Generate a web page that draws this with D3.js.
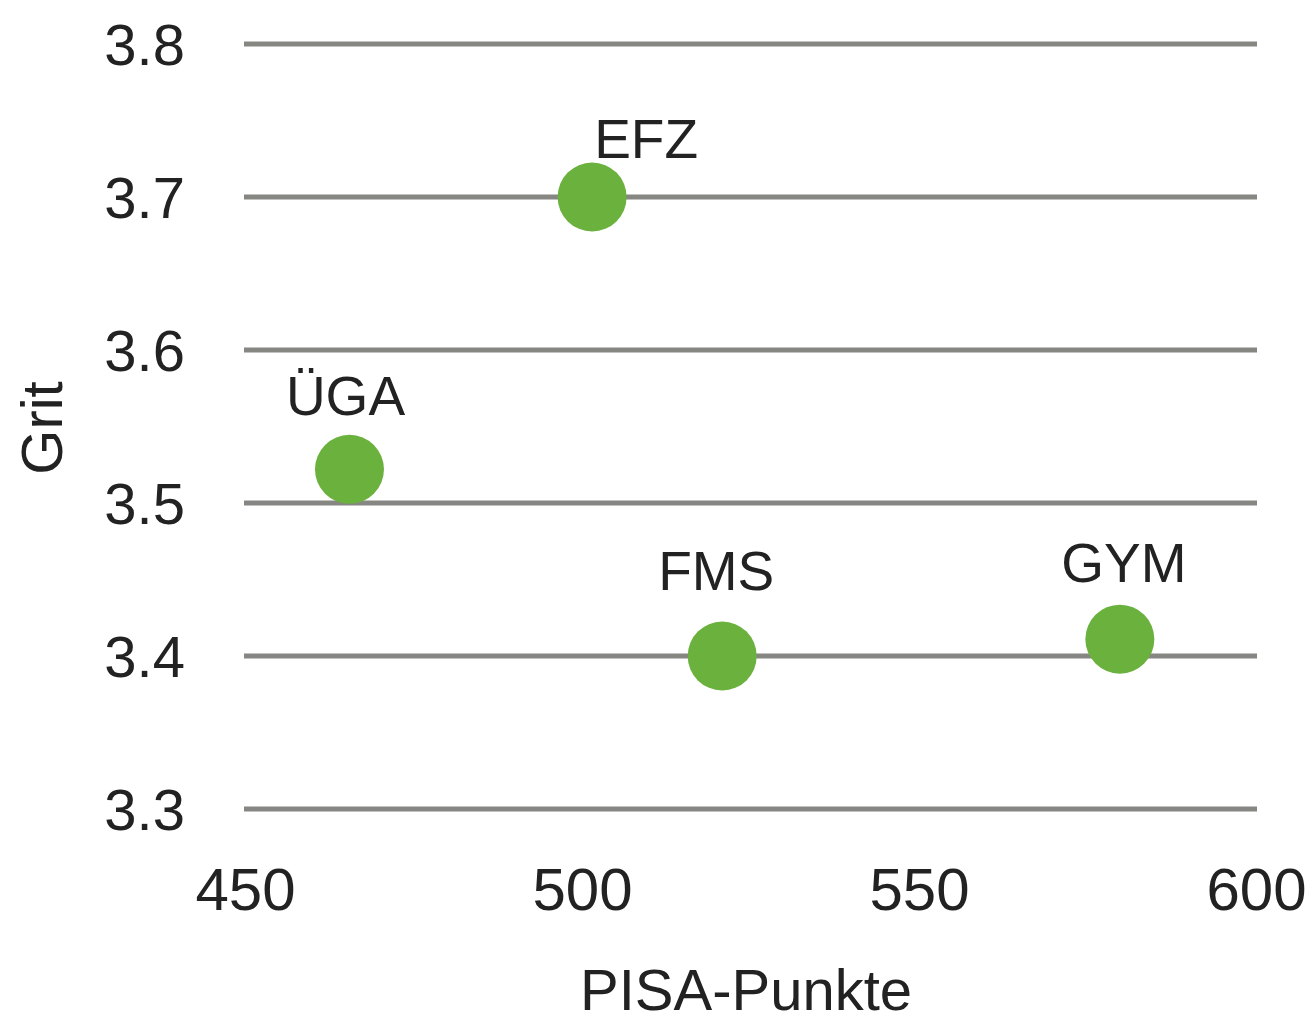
<!DOCTYPE html>
<html>
<head>
<meta charset="utf-8">
<script src="https://cdn.jsdelivr.net/npm/d3@7"></script>
<style>
  body { margin: 0; background: #fff; }
  text { font-family: 'Liberation Sans', Arial, sans-serif; fill: #222; }
</style>
</head>
<body>
<div id="chart"></div>
<script>
// data
let schools = ['EFZ', 'ÜGA', 'FMS', 'GYM']
let pisa = [501.5, 465.5, 520.8, 579.8]
let grit = [3.7, 3.522, 3.4, 3.411]

let xTicks = [450, 500, 550, 600]
let yTicks = [3.3, 3.4, 3.5, 3.6, 3.7, 3.8]

let width = 1314
let height = 1023
let margin = { top: 44, left: 245, right: 58, bottom: 214 }

// label placement relative to each dot (dx, dy)
let labelOffset = {
  'EFZ': [54, -39],
  'ÜGA': [-4, -54],
  'FMS': [-6, -66],
  'GYM': [4, -57]
}

let svg = d3.select('#chart')
  .append('svg')
  .attr('width', width)
  .attr('height', height)

let x = d3.scaleLinear()
  .domain([450, 600])
  .range([margin.left, width - margin.right])

let y = d3.scaleLinear()
  .domain([3.3, 3.8])
  .range([height - margin.bottom, margin.top])

// gridlines
svg.selectAll('.grid')
  .data(yTicks)
  .enter()
  .append('line')
  .attr('class', 'grid')
  .attr('x1', x(450) - 1)
  .attr('x2', x(600) + 1)
  .attr('y1', d => y(d))
  .attr('y2', d => y(d))
  .attr('stroke', '#868682')
  .attr('stroke-width', 5)

// y axis labels
let yAxis = d3.axisLeft(y)
  .tickValues(yTicks)
  .tickFormat(d3.format('.1f'))
  .tickSize(0)
  .tickPadding(60)

svg.append('g')
  .attr('transform', `translate(${margin.left},0)`)
  .call(yAxis)
  .call(g => g.select('.domain').remove())
  .selectAll('text')
  .attr('font-size', 58)
  .attr('font-family', null)
  .attr('fill', null)
  .attr('dy', '0.36em')

// x axis labels
let xAxis = d3.axisBottom(x)
  .tickValues(xTicks)
  .tickSize(0)
  .tickPadding(58)

svg.append('g')
  .attr('transform', `translate(0,${y(3.3)})`)
  .call(xAxis)
  .call(g => g.select('.domain').remove())
  .selectAll('text')
  .attr('font-size', 60)
  .attr('font-family', null)
  .attr('fill', null)

// axis titles
svg.append('text')
  .text('PISA-Punkte')
  .attr('x', 746)
  .attr('y', 1010)
  .attr('text-anchor', 'middle')
  .attr('font-size', 58)

svg.append('text')
  .text('Grit')
  .attr('transform', 'translate(62,428) rotate(-90)')
  .attr('text-anchor', 'middle')
  .attr('font-size', 58)

// points
let points = schools.map((s, i) => ({ name: s, pisa: pisa[i], grit: grit[i] }))

svg.selectAll('.dot')
  .data(points)
  .enter()
  .append('circle')
  .attr('class', 'dot')
  .attr('cx', d => x(d.pisa))
  .attr('cy', d => y(d.grit))
  .attr('r', 34.5)
  .attr('fill', '#6bb13d')

svg.selectAll('.label')
  .data(points)
  .enter()
  .append('text')
  .attr('class', 'label')
  .text(d => d.name)
  .attr('x', d => x(d.pisa) + labelOffset[d.name][0])
  .attr('y', d => y(d.grit) + labelOffset[d.name][1])
  .attr('text-anchor', 'middle')
  .attr('font-size', 55)
</script>
</body>
</html>
